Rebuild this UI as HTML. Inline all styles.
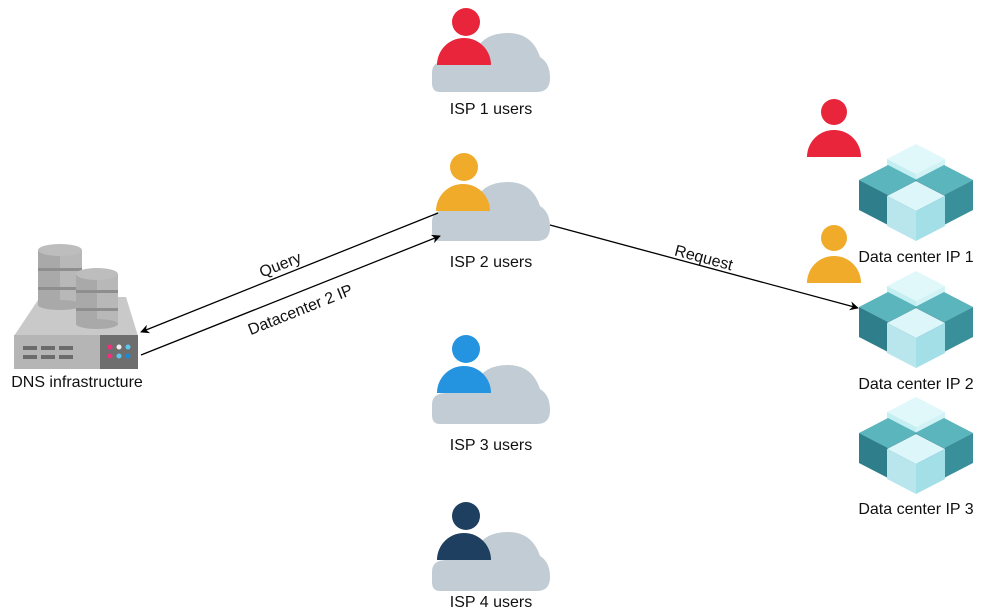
<!DOCTYPE html>
<html><head><meta charset="utf-8"><style>
html,body{margin:0;padding:0;background:#fff;width:990px;height:616px;overflow:hidden}
text{font-family:"Liberation Sans",Arial,sans-serif;font-size:16px;fill:#111}
</style></head><body>
<svg width="990" height="616" viewBox="0 0 990 616" xmlns="http://www.w3.org/2000/svg">
<defs>
<path id="cloud" d="M8 67 Q0 67 0 58 L0 48 Q0 36 14 36 L40 36 Q46 8 76 8 Q100 8 108 32 Q118 38 118 53 Q118 67 105 67 Z" fill="#c1ccd4"/>
<g id="cubes">
 <polygon points="916,144 945,159 916,174 887,159" fill="#e0f8fa"/>
 <polygon points="887,159 916,174 916,204 887,189" fill="#c3eef2"/>
 <polygon points="916,174 945,159 945,189 916,204" fill="#d2f3f6"/>
 <polygon points="888,165 917,180 888,195 859,180" fill="#5bb5bd"/>
 <polygon points="859,180 888,195 888,225 859,210" fill="#2e7f8b"/>
 <polygon points="888,195 917,180 917,210 888,225" fill="#3a909a"/>
 <polygon points="944,165 973,180 944,195 915,180" fill="#5bb5bd"/>
 <polygon points="915,180 944,195 944,225 915,210" fill="#2e7f8b"/>
 <polygon points="944,195 973,180 973,210 944,225" fill="#3a909a"/>
 <polygon points="916,181 945,196 916,211 887,196" fill="#dcf6f9"/>
 <polygon points="887,196 916,211 916,241 887,226" fill="#b8e6ec"/>
 <polygon points="916,211 945,196 945,226 916,241" fill="#a2dfe6"/>
</g>
<marker id="ar" viewBox="0 0 10 10" refX="9" refY="5" markerWidth="9" markerHeight="9" orient="auto" markerUnits="userSpaceOnUse"><path d="M0 0 L10 5 L0 10 L3 5 Z" fill="#000"/></marker>
</defs>

<!-- ISP 1 -->
<use href="#cloud" x="432" y="25"/>
<circle cx="466" cy="22" r="14" fill="#e8253a"/>
<path d="M437 65 A27 27 0 0 1 491 65 Z" fill="#e8253a"/>
<text x="491" y="114" text-anchor="middle">ISP 1 users</text>

<!-- ISP 2 -->
<use href="#cloud" x="432" y="174"/>
<circle cx="464" cy="167" r="14" fill="#f0ab2a"/>
<path d="M436 211 A27 27 0 0 1 490 211 Z" fill="#f0ab2a"/>
<text x="491" y="267" text-anchor="middle">ISP 2 users</text>

<!-- ISP 3 -->
<use href="#cloud" x="432" y="357"/>
<circle cx="466" cy="349" r="14" fill="#2493e0"/>
<path d="M437 393 A27 27 0 0 1 491 393 Z" fill="#2493e0"/>
<text x="491" y="450" text-anchor="middle">ISP 3 users</text>

<!-- ISP 4 -->
<use href="#cloud" x="432" y="524"/>
<circle cx="466" cy="516" r="14" fill="#1e3f5f"/>
<path d="M437 560 A27 27 0 0 1 491 560 Z" fill="#1e3f5f"/>
<text x="491" y="607" text-anchor="middle">ISP 4 users</text>

<!-- DC users -->
<circle cx="834" cy="112" r="13" fill="#e8253a"/>
<path d="M807 157 A27 27 0 0 1 861 157 Z" fill="#e8253a"/>
<circle cx="834" cy="238" r="13" fill="#f0ab2a"/>
<path d="M807 283 A27 27 0 0 1 861 283 Z" fill="#f0ab2a"/>

<!-- cubes -->
<use href="#cubes"/>
<text x="916" y="262" text-anchor="middle">Data center IP 1</text>
<use href="#cubes" y="127"/>
<text x="916" y="389" text-anchor="middle">Data center IP 2</text>
<use href="#cubes" y="253"/>
<text x="916" y="514" text-anchor="middle">Data center IP 3</text>

<!-- DNS server -->
<polygon points="40,297 126,297 138,336 14,336" fill="#c9c9c9"/>
<rect x="14" y="335" width="86" height="34" fill="#b5b5b5"/>
<rect x="100" y="335" width="38" height="34" fill="#6e6e6e"/>
<g fill="#6b6b6b">
<rect x="23" y="346" width="14" height="4"/><rect x="41" y="346" width="14" height="4"/><rect x="59" y="346" width="14" height="4"/>
<rect x="23" y="355" width="14" height="4"/><rect x="41" y="355" width="14" height="4"/><rect x="59" y="355" width="14" height="4"/>
</g>
<circle cx="110" cy="347" r="2.5" fill="#f0307a"/><circle cx="119" cy="347" r="2.5" fill="#eee"/><circle cx="128" cy="347" r="2.5" fill="#5cc8f0"/>
<circle cx="110" cy="356" r="2.5" fill="#f0307a"/><circle cx="119" cy="356" r="2.5" fill="#5cc8f0"/><circle cx="128" cy="356" r="2.5" fill="#1a8ad8"/>
<rect x="38" y="250" width="44" height="55" fill="#a9a9a9"/>
<rect x="60" y="250" width="22" height="55" fill="#b8b8b8"/>
<ellipse cx="60" cy="305" rx="22" ry="5" fill="#a9a9a9"/>
<ellipse cx="60" cy="250" rx="22" ry="6" fill="#bdbdbd"/>
<rect x="38" y="268" width="44" height="3" fill="#8e8e8e"/><rect x="38" y="287" width="44" height="3" fill="#8e8e8e"/>
<rect x="76" y="274" width="42" height="50" fill="#a9a9a9"/>
<rect x="97" y="274" width="21" height="50" fill="#b8b8b8"/>
<ellipse cx="97" cy="324" rx="21" ry="5" fill="#a9a9a9"/>
<ellipse cx="97" cy="274" rx="21" ry="6" fill="#bdbdbd"/>
<rect x="76" y="290" width="42" height="3" fill="#8e8e8e"/><rect x="76" y="308" width="42" height="3" fill="#8e8e8e"/>
<text x="77" y="387" text-anchor="middle">DNS infrastructure</text>

<!-- connectors -->
<line x1="438" y1="213" x2="141" y2="332" stroke="#000" stroke-width="1.3" marker-end="url(#ar)"/>
<line x1="141" y1="355" x2="440" y2="236" stroke="#000" stroke-width="1.3" marker-end="url(#ar)"/>
<line x1="550" y1="225" x2="858" y2="308" stroke="#000" stroke-width="1.3" marker-end="url(#ar)"/>
<text x="280" y="270" text-anchor="middle" transform="rotate(-21.8 280 264)">Query</text>
<text x="300" y="315" text-anchor="middle" transform="rotate(-21.8 300 309)">Datacenter 2 IP</text>
<text x="704" y="263" text-anchor="middle" transform="rotate(15 704 257)">Request</text>
</svg>
</body></html>
